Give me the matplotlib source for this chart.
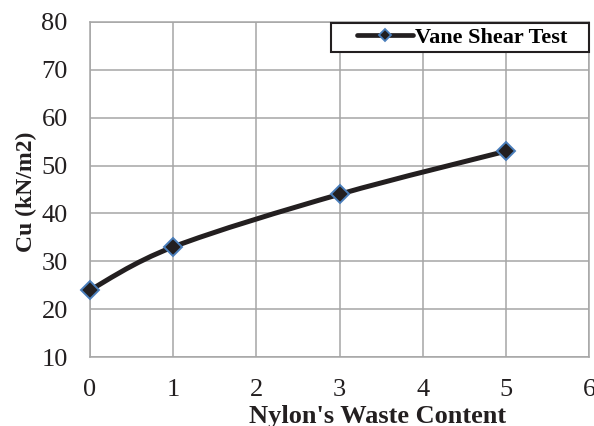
import numpy as np
import matplotlib
matplotlib.use("Agg")
import matplotlib.pyplot as plt
from matplotlib.path import Path
from matplotlib.patches import PathPatch
from matplotlib.lines import Line2D
from matplotlib.legend_handler import HandlerLine2D

plt.rcParams["font.family"] = ["Liberation Serif", "DejaVu Serif"]

nylon = [0, 1, 3, 5]
cu = [24, 33, 44, 53]
xticks = [0, 1, 2, 3, 4, 5, 6]
yticks = [10, 20, 30, 40, 50, 60, 70, 80]


def smooth_path(xs, ys, t=1 / 6):
    # Excel-like smoothed line through the points, as cubic bezier segments
    pts = np.column_stack([xs, ys]).astype(float)
    verts = [pts[0]]
    codes = [Path.MOVETO]
    n = len(pts)
    for i in range(n - 1):
        p0 = pts[i - 1] if i > 0 else pts[i]
        p1 = pts[i]
        p2 = pts[i + 1]
        p3 = pts[i + 2] if i + 2 < n else pts[i + 1]
        c1 = p1 + (p2 - p0) * t
        c2 = p2 - (p3 - p1) * t
        verts += [c1, c2, p2]
        codes += [Path.CURVE4] * 3
    return Path(verts, codes)


class OffsetLineHandler(HandlerLine2D):
    # leave some empty space on the left of the legend key
    def create_artists(self, legend, orig_handle, xdescent, ydescent,
                       width, height, fontsize, trans):
        gap = width * 0.28
        return super().create_artists(legend, orig_handle, xdescent - gap,
                                      ydescent, width - gap, height,
                                      fontsize, trans)


fig = plt.figure(figsize=(5.94, 4.26), dpi=100)
ax = fig.add_axes([90 / 594, 69 / 426, 499 / 594, 335 / 426])

line_col = "#231F20"
edge_col = "#4A7EBB"

ax.add_patch(PathPatch(smooth_path(nylon, cu), fill=False, lw=3.6,
                       edgecolor=line_col, capstyle="round", zorder=3))
ax.plot(nylon, cu, ls="none", marker="D", ms=9.5, mfc=line_col,
        mec=edge_col, mew=1.4, zorder=4, clip_on=False)

ax.set_xlim(0, 6)
ax.set_ylim(10, 80)
ax.set_xticks(xticks)
ax.set_yticks(yticks)
ax.grid(True, color="#A6A6A6", lw=1.1)
ax.set_axisbelow(True)
for s in ax.spines.values():
    s.set_color("#A6A6A6")
    s.set_linewidth(1.1)
ax.tick_params(length=0, labelsize=19, colors="#231F20")
ax.tick_params(axis="y", pad=16)
ax.tick_params(axis="x", pad=16)

ax.set_xlabel("Nylon's Waste Content", fontsize=19, fontweight="bold",
              color="#231F20")
ax.xaxis.set_label_coords(0.577, -0.143)
ax.set_ylabel("Cu (kN/m2)", fontsize=17, fontweight="bold",
              color="#231F20", va="center")
ax.yaxis.set_label_coords(-0.128, 0.4925)

handle = Line2D([0], [0], color=line_col, lw=3.4, marker="D", ms=6.5,
                mfc=line_col, mec=edge_col, mew=1.3, solid_capstyle="round")
leg = ax.legend([handle], ["Vane Shear Test   "], loc="upper right",
                handler_map={Line2D: OffsetLineHandler()},
                bbox_to_anchor=(1.0, 0.997), prop={"weight": "bold", "size": 16},
                frameon=True, fancybox=False, framealpha=1, handlelength=3.5,
                borderpad=0.2, handletextpad=0.1, borderaxespad=0.0)
leg.get_frame().set_edgecolor("#231F20")
leg.get_frame().set_linewidth(1.5)

fig.savefig("out.png", dpi=100)
